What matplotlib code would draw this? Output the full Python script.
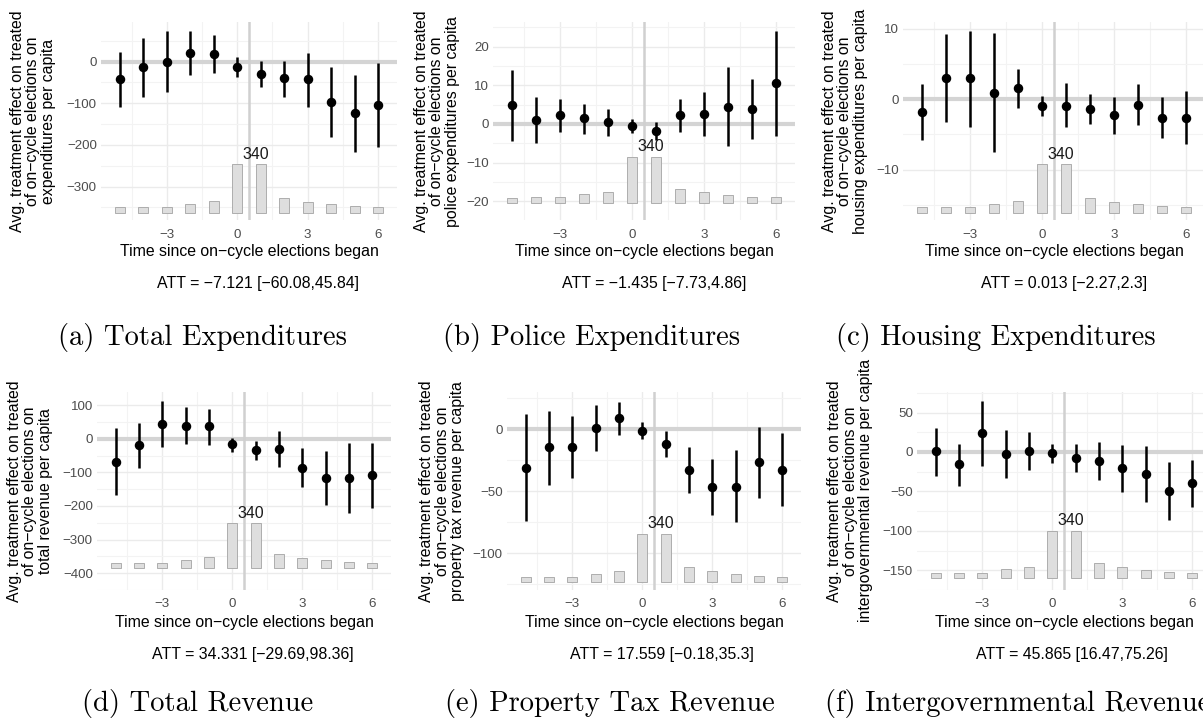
import matplotlib as mpl
mpl.use('Agg')
import matplotlib.pyplot as plt
import numpy as np

W, H = 1203, 726

# event time and number of treated units per period (same sample in every panel)
periods = [-5, -4, -3, -2, -1, 0, 1, 2, 3, 4, 5, 6]
counts = [38, 39, 39, 61, 82, 340, 340, 104, 77, 59, 45, 39]

# point estimates and 95% CI
est_exp = [-42, -14, 0, 20, 18, -12, -30, -40, -41, -96, -124, -104]
lo_exp = [-110, -86, -74, -32, -28, -38, -62, -84, -108, -181, -218, -206]
hi_exp = [24, 56, 74, 74, 63, 10, 2, 2, 22, -14, -32, -4]

est_pol = [4.8, 1.0, 2.3, 1.5, 0.4, -0.6, -1.8, 2.3, 2.7, 4.5, 3.8, 10.7]
lo_pol = [-4.4, -5.0, -2.1, -2.5, -3.0, -2.4, -4.1, -2.1, -3.2, -5.7, -4.0, -3.0]
hi_pol = [14.0, 7.0, 6.6, 5.2, 3.8, 1.2, 0.4, 6.6, 8.4, 14.8, 11.6, 24.2]

est_hou = [-1.8, 3.0, 3.0, 0.95, 1.6, -0.95, -0.9, -1.4, -2.3, -0.8, -2.6, -2.6]
lo_hou = [-5.8, -3.2, -3.9, -7.5, -1.2, -2.4, -4.0, -3.5, -5.0, -3.7, -5.5, -6.4]
hi_hou = [2.1, 9.2, 9.7, 9.4, 4.3, 0.4, 2.3, 0.7, 0.3, 2.1, 0.3, 1.1]

est_rev = [-68, -20, 44, 39, 37, -17, -34, -31, -86, -116, -116, -109]
lo_rev = [-167, -87, -26, -16, -18, -38, -63, -84, -144, -196, -220, -206]
hi_rev = [32, 46, 113, 94, 88, 3, -6, 24, -27, -37, -13, -13]

est_ptx = [-31, -14.5, -14.2, 1.3, 9.1, -1.3, -11.6, -32.8, -46.5, -46.2, -26, -32.5]
lo_ptx = [-74, -45, -39, -17.2, -4.6, -8.1, -22.6, -51, -69, -75, -55, -62]
hi_ptx = [12.4, 15, 10.8, 19.6, 22.3, 5.6, -1.3, -14.5, -24, -16.7, 1.6, -3.2]

est_igr = [1.2, -15.7, 24, -2.9, 1.7, -1.7, -7.4, -11.6, -20.7, -27.7, -49.6, -39.7]
lo_igr = [-30, -42.6, -17.4, -33, -23, -13.6, -25.6, -36, -50.8, -63.2, -86, -70]
hi_igr = [31, 10, 64, 27.7, 24.8, 10, 10, 12.4, 9.1, 7, -13.2, -10.3]

ylabels = ['expenditures per capita', 'police expenditures per capita',
           'housing expenditures per capita', 'total revenue per capita',
           'property tax revenue per capita', 'intergovernmental revenue per capita']
att_texts = ['ATT = \u22127.121 [\u221260.08,45.84]', 'ATT = \u22121.435 [\u22127.73,4.86]',
             'ATT = 0.013 [\u22122.27,2.3]', 'ATT = 34.331 [\u221229.69,98.36]',
             'ATT = 17.559 [\u22120.18,35.3]', 'ATT = 45.865 [16.47,75.26]']
captions = ['(a) Total Expenditures', '(b) Police Expenditures', '(c) Housing Expenditures',
            '(d) Total Revenue', '(e) Property Tax Revenue', '(f) Intergovernmental Revenue']

series = [(est_exp, lo_exp, hi_exp), (est_pol, lo_pol, hi_pol), (est_hou, lo_hou, hi_hou),
          (est_rev, lo_rev, hi_rev), (est_ptx, lo_ptx, hi_ptx), (est_igr, lo_igr, hi_igr)]

# layout (pixels): axes box, y limits, ticks
boxes = [(101, 21.7, 397, 220.5), (493, 21.7, 795, 220.5), (903, 21.7, 1205, 220.5),
         (97, 391.7, 391, 590), (507, 391.7, 801, 590), (917, 391.7, 1211, 590)]
ylims = [(-381.6, 96), (-22.3, 26.5), (-17.2, 11.0), (-405, 140), (-129.6, 30.4), (-169.4, 76.4)]
yticks = [[-300, -200, -100, 0], [-20, -10, 0, 10, 20], [-10, 0, 10],
          [-400, -300, -200, -100, 0, 100], [-100, -50, 0], [-150, -100, -50, 0, 50]]
ylab_x = [33, 437, 845, 30, 442, 850]
att_x = [258, 654, 1064, 253, 662, 1072]
cap_x = [203, 592, 996, 198, 610, 825]

sans = 'Liberation Sans'
fig = plt.figure(figsize=(W / 100, H / 100), dpi=100)

for i in range(6):
    l, t, r, b = boxes[i]
    ax = fig.add_axes([l / W, 1 - b / H, (r - l) / W, (b - t) / H])
    y0, y1 = ylims[i]
    span = y1 - y0
    est, lo, hi = series[i]

    ax.set_xlim(-5.8, 6.8)
    ax.set_ylim(y0, y1)
    for s in ax.spines.values():
        s.set_visible(False)

    ax.set_xticks([-3, 0, 3, 6])
    ax.set_xticklabels(['\u22123', '0', '3', '6'])
    ax.set_xticks([-4.5, -1.5, 1.5, 4.5], minor=True)
    ax.set_yticks(yticks[i])
    ax.set_yticklabels([str(v).replace('-', '\u2212') for v in yticks[i]])
    step = yticks[i][1] - yticks[i][0]
    ax.set_yticks(np.arange(yticks[i][0] - step / 2, y1, step), minor=True)
    ax.grid(True, which='major', color='#EBEBEB', lw=1.0)
    ax.grid(True, which='minor', color='#F3F3F3', lw=0.8)
    ax.set_axisbelow(True)
    ax.tick_params(which='both', length=0)
    ax.tick_params(axis='x', pad=6, labelsize=9.6, labelcolor='#4D4D4D')
    ax.tick_params(axis='y', pad=3, labelsize=9.6, labelcolor='#4D4D4D')
    for lab in ax.get_xticklabels() + ax.get_yticklabels():
        lab.set_family(sans)

    # reference lines
    ax.axhline(0, color='#D4D4D4', lw=3, zorder=1)
    ax.axvline(0.5, color='#D0D0D0', lw=1.8, zorder=1)

    # count bars at the bottom
    base = y0 + 0.039 * span
    heights = [c / max(counts) * 0.245 * span for c in counts]
    ax.bar(periods, heights, width=0.43, bottom=base, color='#DEDEDE',
           edgecolor='#ADADAD', lw=0.7, zorder=2)
    ax.text(0.78, base + heights[5] + 0.012 * span, str(max(counts)), ha='center',
            va='bottom', fontsize=11.4, family=sans, color='#1A1A1A')

    # estimates with CI
    ax.vlines(periods, lo, hi, color='black', lw=1.8, zorder=3)
    ax.scatter(periods, est, s=34, color='black', zorder=4)

    xc = (l + r) / 2
    fig.text(ylab_x[i] / W, 1 - ((t + b) / 2) / H,
             'Avg. treatment effect on treated\nof on\u2212cycle elections on\n' + ylabels[i],
             rotation=90, ha='center', va='center', multialignment='center',
             fontsize=11.4, family=sans, linespacing=1.08)
    xlab_y = 252 if i < 3 else 623
    fig.text(xc / W, 1 - xlab_y / H, 'Time since on\u2212cycle elections began',
             ha='center', va='center', fontsize=11.4, family=sans)
    att_y = 284 if i < 3 else 655
    fig.text(att_x[i] / W, 1 - att_y / H, att_texts[i], ha='center', va='center',
             fontsize=11.4, family=sans)
    cap_y = 338 if i < 3 else 704
    fig.text(cap_x[i] / W, 1 - cap_y / H, captions[i],
             ha='left' if i == 5 else 'center', va='center', fontsize=20.6, family='cmr10')

fig.savefig('out.png', dpi=100)
